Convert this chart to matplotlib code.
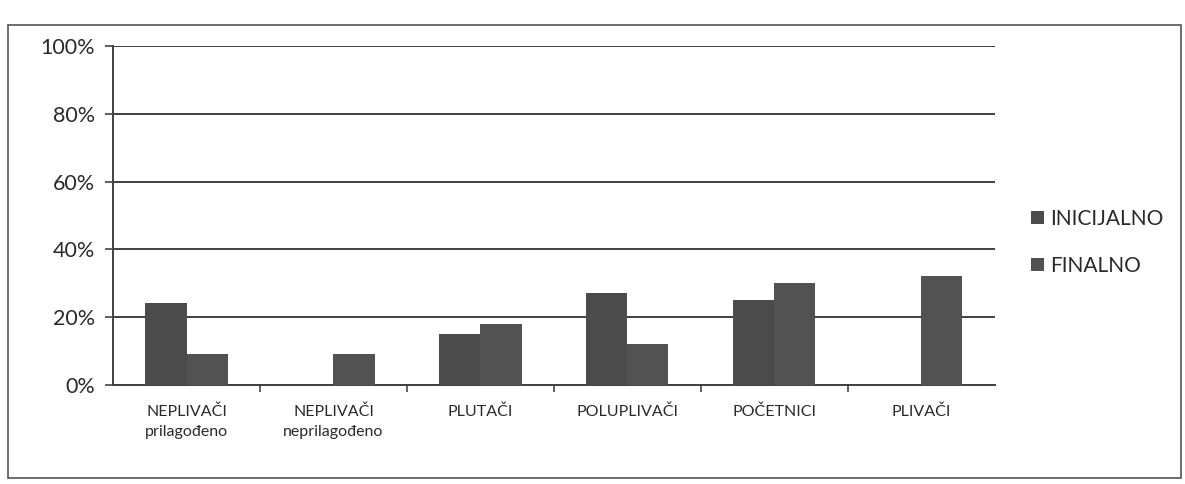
import matplotlib.pyplot as plt
from matplotlib.patches import Rectangle
from matplotlib.ticker import FixedLocator, PercentFormatter
import numpy as np

plt.rcParams['font.family'] = ['Lato', 'DejaVu Sans']

categories = ["NEPLIVAČI\nprilagođeno", "NEPLIVAČI\nneprilagođeno", "PLUTAČI",
              "POLUPLIVAČI", "POČETNICI", "PLIVAČI"]
inicijalno = [24, 0, 15, 27, 25, 0]
finalno = [9, 9, 18, 12, 30, 32]
series_names = ["INICIJALNO", "FINALNO"]
y_ticks = [0, 20, 40, 60, 80, 100]

fig = plt.figure(figsize=(11.85, 4.84), dpi=100)
ax = fig.add_axes([0.0954, 0.205, 0.744, 0.70])

x = np.arange(len(categories))
w = 0.28
ax.bar(x - w / 2, inicijalno, width=w, color="#4b4b4b", label=series_names[0], zorder=3)
ax.bar(x + w / 2, finalno, width=w, color="#525252", label=series_names[1], zorder=3)

ax.set_xlim(-0.5, len(categories) - 0.5)
ax.set_ylim(0, 100)
ax.set_yticks(y_ticks)
ax.yaxis.set_major_formatter(PercentFormatter(decimals=0))
ax.grid(axis="y", color="#404040", linewidth=1.4, zorder=1)

ax.set_xticks(x)
ax.set_xticklabels(categories, fontsize=11.5, color="#2a2a2a", linespacing=1.6)
ax.xaxis.set_minor_locator(FixedLocator(np.arange(0.5, len(categories) - 0.5, 1.0)))
ax.tick_params(axis="x", which="major", length=0, pad=14)
ax.tick_params(axis="x", which="minor", length=5, width=1.2, color="#444444")
ax.tick_params(axis="y", length=6, width=1.2, color="#444444", labelsize=15.5,
               labelcolor="#2a2a2a", pad=7)

for side in ("top", "right"):
    ax.spines[side].set_visible(False)
for side in ("left", "bottom"):
    ax.spines[side].set_color("#404040")
    ax.spines[side].set_linewidth(1.4)

ax.legend(loc="center left", bbox_to_anchor=(1.02, 0.42), frameon=False,
          fontsize=15, handlelength=0.6, handleheight=0.6, handletextpad=0.3,
          labelspacing=1.3, labelcolor="#2a2a2a")

# outer chart frame
fig.add_artist(Rectangle((0.007, 0.012), 0.99, 0.936, transform=fig.transFigure,
                         fill=False, edgecolor="#555555", linewidth=1.2))

fig.savefig("out.png", dpi=100, facecolor="white")
